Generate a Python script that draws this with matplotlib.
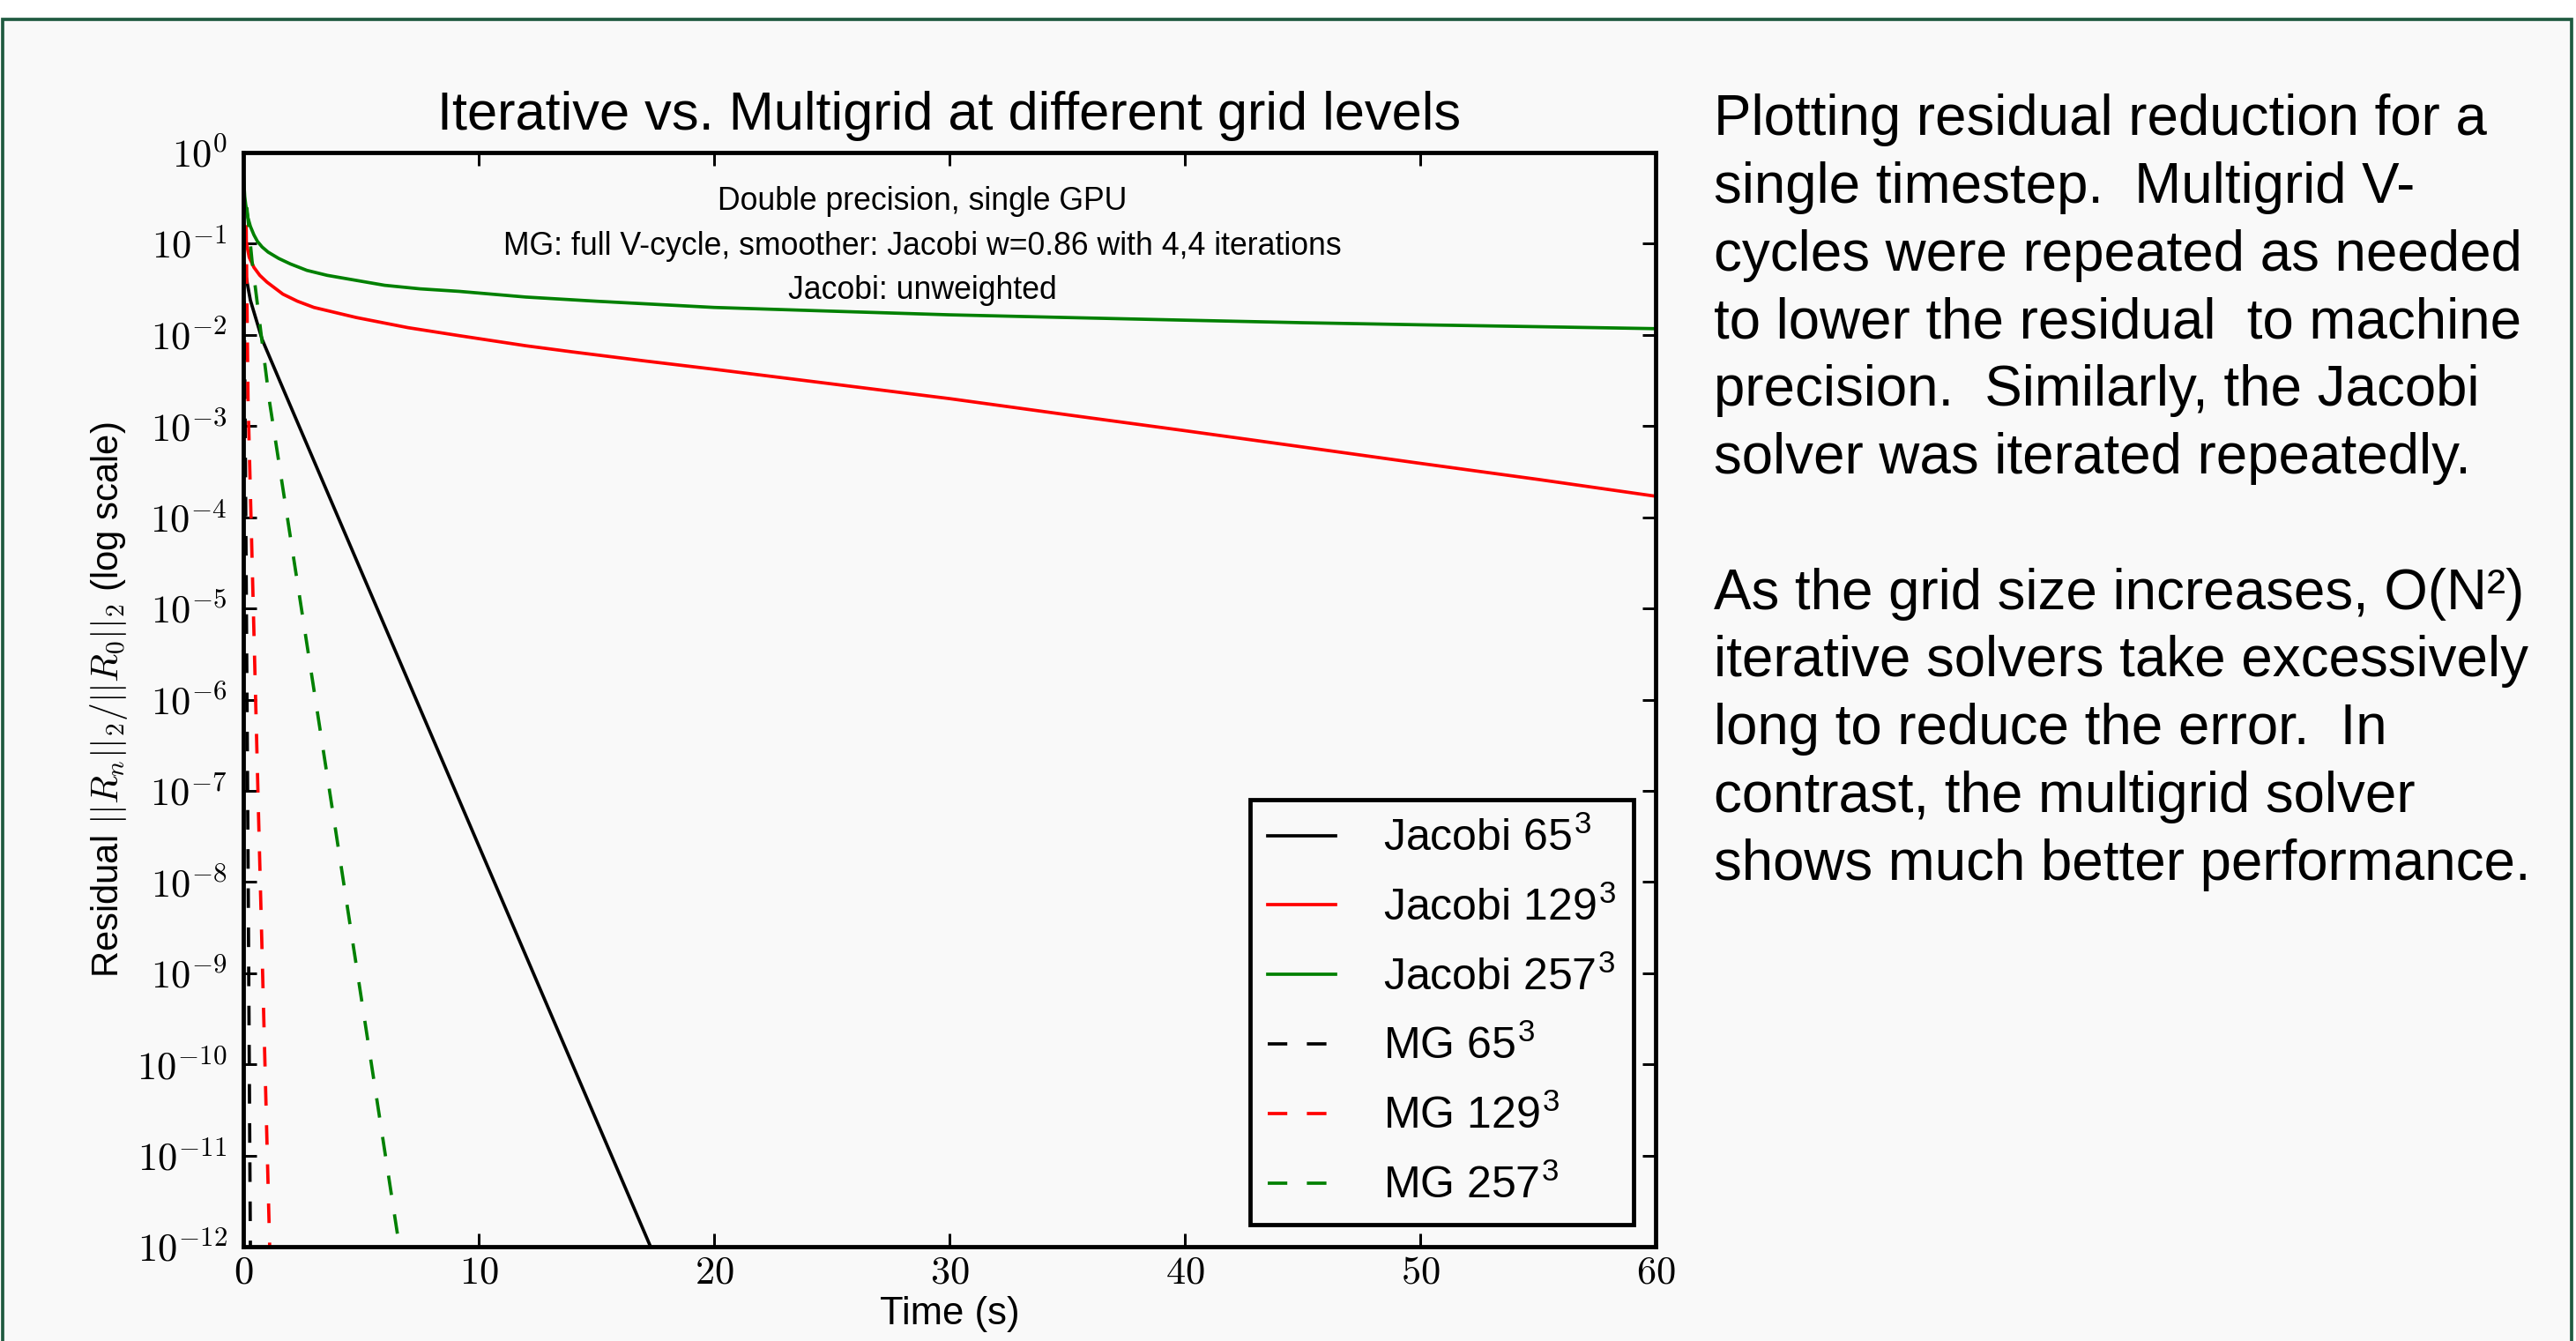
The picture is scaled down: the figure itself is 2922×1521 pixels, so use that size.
import math

import matplotlib

matplotlib.use("Agg")
import matplotlib.pyplot as plt
from matplotlib.patches import Rectangle
from matplotlib.ticker import FixedLocator, FuncFormatter, NullLocator

W, H = 2922, 1521
DPI = 266.4

BG_COLOR = "#f9f9f9"
BORDER_COLOR = "#1f5a40"
FONT = ["Liberation Sans", "DejaVu Sans"]

plt.rcParams["font.family"] = FONT
plt.rcParams["mathtext.fontset"] = "cm"
plt.rcParams["lines.scale_dashes"] = False

# residual values
jac65_t = [0.0, 0.3, 0.8, 1.8, 9.2, 17.3]
jac65_r = [6.3e-2, 2.4e-2, 8.9e-3, 2.2e-3, 7.6e-8, 1e-12]

jac129_t = [0.0, 0.1, 0.25, 0.45, 0.7, 1.0, 1.68, 2.3, 3.0, 4.8, 7.0, 9.18, 12.0, 14.0,
            17.0, 20.0, 25.0, 30.0, 35.0, 40.0, 45.0, 50.0, 55.0, 60.0]
jac129_r = [0.18, 0.112, 0.071, 0.055, 0.045, 0.038, 0.028, 0.0234, 0.020, 0.0155, 0.012,
            0.0098, 0.0076, 0.0065, 0.0052, 0.0042, 0.0029, 0.0020, 1.33e-3, 8.9e-4,
            5.9e-4, 3.9e-4, 2.6e-4, 1.7e-4]

jac257_t = [0.0, 0.06, 0.1, 0.19, 0.3, 0.45, 0.6, 0.8, 1.05, 1.5, 2.0, 2.7, 3.56, 4.7, 6.0,
            7.5, 9.18, 12.0, 15.0, 20.0, 25.0, 30.0, 35.0, 40.0, 45.0, 50.0, 55.0, 60.0]
jac257_r = [0.6, 0.33, 0.27, 0.195, 0.155, 0.125, 0.106, 0.092, 0.081, 0.069, 0.060, 0.051,
            0.045, 0.040, 0.035, 0.032, 0.030, 0.026, 0.0234, 0.020, 0.0182, 0.0166,
            0.0155, 0.0145, 0.0136, 0.0129, 0.0123, 0.0117]

mg65_t = [0.03, 0.07, 0.19, 0.3]
mg65_r = [6.3e-2, 2.2e-3, 5e-8, 1e-12]

mg129_t = [0.12, 0.2, 0.65, 1.12]
mg129_r = [0.16, 2e-3, 5e-8, 1e-12]

mg257_t = [0.15, 0.37, 0.75, 1.12, 3.9, 6.63]
mg257_r = [0.25, 0.065, 0.0105, 1.8e-3, 4e-8, 1e-12]

x_ticks = [0, 10, 20, 30, 40, 50, 60]
y_exps = list(range(-12, 1))

notes = [
    "Double precision, single GPU",
    "MG: full V-cycle, smoother: Jacobi w=0.86 with 4,4 iterations",
    "Jacobi: unweighted",
]

side_text = [
    "Plotting residual reduction for a",
    "single timestep.  Multigrid V-",
    "cycles were repeated as needed",
    "to lower the residual  to machine",
    "precision.  Similarly, the Jacobi",
    "solver was iterated repeatedly.",
    "",
    "As the grid size increases, O(N\u00b2)",
    "iterative solvers take excessively",
    "long to reduce the error.  In",
    "contrast, the multigrid solver",
    "shows much better performance.",
]

fig = plt.figure(figsize=(W / DPI, H / DPI), dpi=DPI, facecolor="white")

# slide panel behind everything
fig.patches.append(
    Rectangle((3 / W, -0.05), 2914 / W, 1.05 - 22 / H, transform=fig.transFigure,
              facecolor=BG_COLOR, edgecolor=BORDER_COLOR, linewidth=1.0, zorder=-5)
)

ax = fig.add_axes([276 / W, 1 - 1414 / H, 1602 / W, 1241 / H])
ax.set_zorder(2)
ax.set_facecolor("none")

ax.plot(jac65_t, jac65_r, color="k", lw=1.0, label=r"Jacobi 65$^{\mathdefault{3}}$")
ax.plot(jac129_t, jac129_r, color="#ff0000", lw=1.0, label=r"Jacobi 129$^{\mathdefault{3}}$")
ax.plot(jac257_t, jac257_r, color="#008000", lw=1.0, label=r"Jacobi 257$^{\mathdefault{3}}$")
ax.plot(mg65_t, mg65_r, color="k", lw=1.0, dashes=(6, 6), label=r"MG 65$^{\mathdefault{3}}$")
ax.plot(mg129_t, mg129_r, color="#ff0000", lw=1.0, dashes=(6, 6), label=r"MG 129$^{\mathdefault{3}}$")
ax.plot(mg257_t, mg257_r, color="#008000", lw=1.0, dashes=(6, 6), label=r"MG 257$^{\mathdefault{3}}$")

ax.set_yscale("log")
ax.set_xlim(0, 60)
ax.set_ylim(1e-12, 1)

ax.xaxis.set_major_locator(FixedLocator(x_ticks))
ax.xaxis.set_major_formatter(FuncFormatter(lambda v, p: r"$%d$" % round(v)))
ax.yaxis.set_major_locator(FixedLocator([10.0 ** e for e in y_exps]))
ax.yaxis.set_major_formatter(FuncFormatter(lambda v, p: r"$10^{%d}$" % round(math.log10(v))))
ax.yaxis.set_minor_locator(NullLocator())
ax.xaxis.set_minor_locator(NullLocator())

ax.tick_params(which="major", direction="in", length=4, width=0.8, top=True, right=True,
               labelsize=12, colors="k")
ax.tick_params(axis="y", pad=5)
ax.tick_params(axis="x", pad=2.5)
for spine in ax.spines.values():
    spine.set_linewidth(1.3)
    spine.set_color("k")

ax.set_title("Iterative vs. Multigrid at different grid levels", fontsize=16.6, pad=7)
ax.set_xlabel("Time (s)", fontsize=11.8)
ax.set_ylabel(r"Residual $||R_n||_2/||R_0||_2$ (log scale)", fontsize=11.3)
ax.xaxis.set_label_coords(0.5, -0.062)
ax.xaxis.label.set_va("center")
ax.yaxis.set_label_coords(-0.095, 0.5)
ax.yaxis.label.set_va("center")

for i, line in enumerate(notes):
    ax.text(0.481, 0.955 - i * 0.0405, line, transform=ax.transAxes, ha="center",
            va="center", fontsize=9.65)

leg = ax.legend(loc="lower right", fontsize=13.5, frameon=True, fancybox=False,
                handlelength=1.54, handletextpad=1.08, labelspacing=0.61,
                borderpad=0.4, borderaxespad=0.5, framealpha=1.0)
leg.get_frame().set_edgecolor("k")
leg.get_frame().set_linewidth(1.3)
leg.get_frame().set_facecolor(BG_COLOR)

for i, line in enumerate(side_text):
    if line:
        fig.text(1944 / W, 1 - (136 + i * 76.8) / H, line, ha="left", va="center",
                 fontsize=17.2, color="k")

fig.savefig("out.png", dpi=DPI, facecolor="white")
plt.close(fig)
